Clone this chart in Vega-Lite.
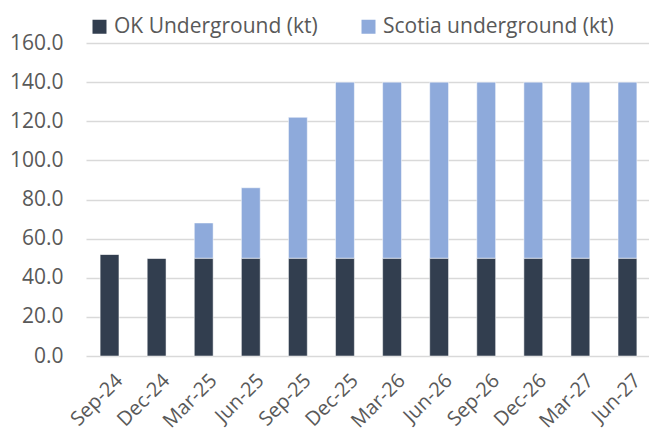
{
  "$schema": "https://vega.github.io/schema/vega-lite/v6.json",
  "autosize": "none",
  "width": 565,
  "height": 313,
  "padding": {"left": 86, "top": 43, "right": 0, "bottom": 78},
  "background": "white",
  "config": {"view": {"stroke": null}, "font": "Open Sans"},
  "data": {"values": [
    {"period": "Sep-24", "series": "OK Underground (kt)", "value": 52},
    {"period": "Dec-24", "series": "OK Underground (kt)", "value": 50},
    {"period": "Mar-25", "series": "OK Underground (kt)", "value": 50},
    {"period": "Jun-25", "series": "OK Underground (kt)", "value": 50},
    {"period": "Sep-25", "series": "OK Underground (kt)", "value": 50},
    {"period": "Dec-25", "series": "OK Underground (kt)", "value": 50},
    {"period": "Mar-26", "series": "OK Underground (kt)", "value": 50},
    {"period": "Jun-26", "series": "OK Underground (kt)", "value": 50},
    {"period": "Sep-26", "series": "OK Underground (kt)", "value": 50},
    {"period": "Dec-26", "series": "OK Underground (kt)", "value": 50},
    {"period": "Mar-27", "series": "OK Underground (kt)", "value": 50},
    {"period": "Jun-27", "series": "OK Underground (kt)", "value": 50},
    {"period": "Sep-24", "series": "Scotia underground (kt)", "value": 0},
    {"period": "Dec-24", "series": "Scotia underground (kt)", "value": 0},
    {"period": "Mar-25", "series": "Scotia underground (kt)", "value": 18},
    {"period": "Jun-25", "series": "Scotia underground (kt)", "value": 36},
    {"period": "Sep-25", "series": "Scotia underground (kt)", "value": 72},
    {"period": "Dec-25", "series": "Scotia underground (kt)", "value": 90},
    {"period": "Mar-26", "series": "Scotia underground (kt)", "value": 90},
    {"period": "Jun-26", "series": "Scotia underground (kt)", "value": 90},
    {"period": "Sep-26", "series": "Scotia underground (kt)", "value": 90},
    {"period": "Dec-26", "series": "Scotia underground (kt)", "value": 90},
    {"period": "Mar-27", "series": "Scotia underground (kt)", "value": 90},
    {"period": "Jun-27", "series": "Scotia underground (kt)", "value": 90}
  ]},
  "mark": {"type": "bar", "stroke": "white", "strokeWidth": 0.5},
  "encoding": {
    "x": {
      "field": "period", "type": "nominal", "sort": null,
      "scale": {"paddingInner": 0.6, "paddingOuter": 0.3},
      "axis": {
        "title": null, "labelAngle": -45, "labelFontSize": 20, "labelColor": "#595959",
        "ticks": false, "domain": false, "labelPadding": 14, "labelOffset": 3
      }
    },
    "y": {
      "field": "value", "type": "quantitative", "stack": "zero",
      "scale": {"domain": [0, 160], "nice": false},
      "axis": {
        "title": null, "values": [0, 20, 40, 60, 80, 100, 120, 140, 160], "format": ".1f",
        "labelFontSize": 21, "labelColor": "#595959", "ticks": false, "domain": false,
        "labelPadding": 23, "gridColor": "#d9d9d9", "gridWidth": 1.5
      }
    },
    "color": {
      "field": "series", "type": "nominal",
      "scale": {"domain": ["OK Underground (kt)", "Scotia underground (kt)"], "range": ["#323e4f", "#8eaadb"]},
      "legend": {
        "title": null, "orient": "none", "direction": "horizontal", "legendX": 3, "legendY": -27,
        "symbolType": "square", "symbolSize": 196, "symbolStrokeWidth": 0,
        "labelFontSize": 21, "labelColor": "#595959", "columnPadding": 40, "labelOffset": 4, "labelLimit": 0
      }
    },
    "order": {"field": "series", "sort": "ascending"}
  }
}
